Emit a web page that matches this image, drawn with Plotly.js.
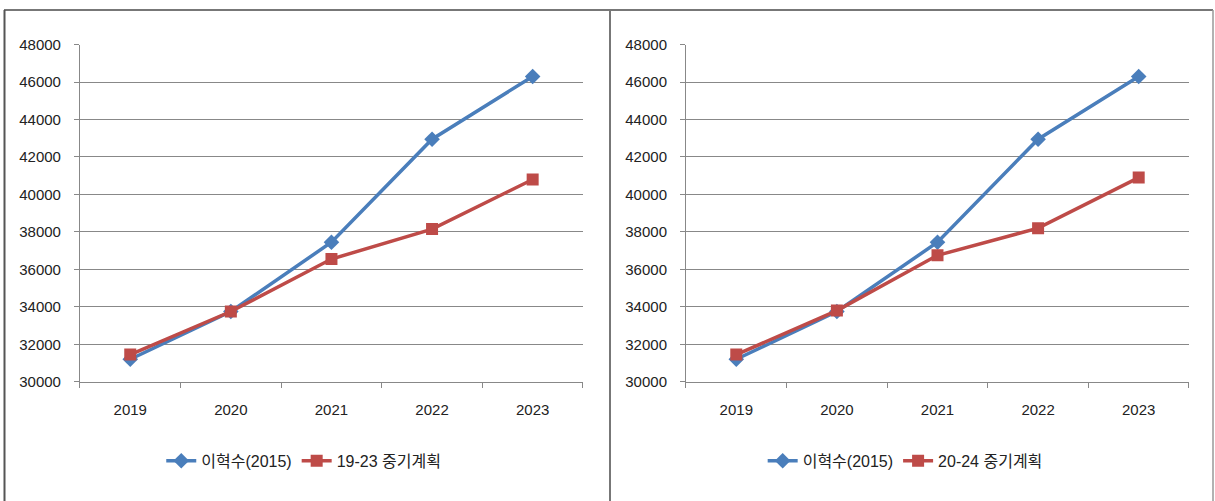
<!DOCTYPE html>
<html>
<head>
<meta charset="utf-8">
<script src="https://cdn.plot.ly/plotly-3.0.1.min.js"></script>
<style>html,body{margin:0;padding:0;background:#fff}#chart{width:1215px;height:501px}</style>
</head>
<body>
<div id="chart"></div>
<script>
const years = ['2019', '2020', '2021', '2022', '2023'];
const seriesA = [31200, 33750, 37450, 42950, 46300];        // 이혁수(2015)
const planLeft = [31450, 33750, 36550, 38150, 40800];       // 19-23 중기계획
const planRight = [31450, 33800, 36750, 38200, 40900];      // 20-24 중기계획
const nameA = '이혁수(2015)';
const nameLeft = '19-23 중기계획';
const nameRight = '20-24 중기계획';
const yTicks = [30000, 32000, 34000, 36000, 38000, 40000, 42000, 44000, 46000, 48000];

const blue = '#4A7EBB', red = '#BE4B48';
const FONT = 'Liberation Sans, Arial, Noto Sans CJK KR, sans-serif';

function blueTrace(xa, ya, leg) {
  return {x: years, y: seriesA, xaxis: xa, yaxis: ya, legend: leg, name: nameA, type: 'scatter', mode: 'lines+markers',
    line: {color: blue, width: 3.5}, marker: {symbol: 'diamond', size: 12, color: blue}};
}
function redTrace(vals, nm, xa, ya, leg) {
  return {x: years, y: vals, xaxis: xa, yaxis: ya, legend: leg, name: nm, type: 'scatter', mode: 'lines+markers',
    line: {color: red, width: 3.5}, marker: {symbol: 'square', size: 12, color: red}};
}

const data = [
  blueTrace('x', 'y', 'legend'), redTrace(planLeft, nameLeft, 'x', 'y', 'legend'),
  blueTrace('x2', 'y2', 'legend2'), redTrace(planRight, nameRight, 'x2', 'y2', 'legend2')
];

function xax(dom, anchor) {
  return {domain: dom, anchor: anchor, type: 'category', tickson: 'boundaries', ticks: 'outside', ticklen: 5,
    tickcolor: '#888', showline: true, linecolor: '#888', linewidth: 1, showgrid: false, zeroline: false,
    ticklabelstandoff: 14,
    tickfont: {family: FONT, size: 15, color: '#222'}, range: [-0.5, 4.5], fixedrange: true};
}
function yax(dom, anchor) {
  return {domain: dom, anchor: anchor, range: [30000, 48000], tickvals: yTicks, ticktext: yTicks.map(String),
    ticks: 'outside', ticklen: 5, tickcolor: '#888', showline: true, linecolor: '#888', linewidth: 1,
    showgrid: true, gridcolor: '#888', gridwidth: 1, zeroline: false, ticklabelstandoff: 10,
    tickfont: {family: FONT, size: 15, color: '#222'}, fixedrange: true};
}

const legendBase = {orientation: 'h', xanchor: 'center', yanchor: 'middle', y: 0.08,
  font: {family: FONT, size: 16, color: '#222'}, bgcolor: 'rgba(0,0,0,0)', itemwidth: 30, tracegroupgap: 0};

const layout = {
  width: 1215, height: 501, margin: {l: 0, r: 0, t: 0, b: 0},
  paper_bgcolor: '#fff', plot_bgcolor: '#fff', showlegend: true,
  xaxis: xax([0.0658, 0.4798], 'y'),
  yaxis: yax([0.238, 0.911], 'x'),
  xaxis2: xax([0.5646, 0.9786], 'y2'),
  yaxis2: yax([0.238, 0.911], 'x2'),
  legend: Object.assign({}, legendBase, {x: 0.25}),
  legend2: Object.assign({}, legendBase, {x: 0.745}),
  shapes: [
    {type: 'line', xref: 'paper', yref: 'paper', x0: 4/1215, x1: 1213/1215, y0: 1 - 10/501, y1: 1 - 10/501, line: {color: '#777', width: 2}},
    {type: 'line', xref: 'paper', yref: 'paper', x0: 4.5/1215, x1: 4.5/1215, y0: 0, y1: 1 - 10/501, line: {color: '#555', width: 2}},
    {type: 'line', xref: 'paper', yref: 'paper', x0: 610/1215, x1: 610/1215, y0: 0, y1: 1 - 10/501, line: {color: '#777', width: 2}},
    {type: 'line', xref: 'paper', yref: 'paper', x0: 1213/1215, x1: 1213/1215, y0: 0, y1: 1 - 10/501, line: {color: '#999', width: 1.5}}
  ]
};

Plotly.newPlot('chart', data, layout, {displayModeBar: false, staticPlot: true});
</script>
</body>
</html>
